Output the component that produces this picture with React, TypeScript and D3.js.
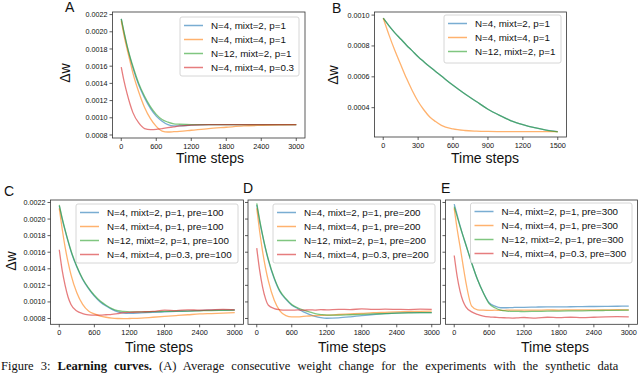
import React from "react";
import * as d3 from "d3";

// ---- data ----
const stepsA = [0, 50, 100, 150, 200, 300, 400, 500, 600, 700, 800, 900, 1000, 1200, 1500, 1800, 2100, 2400, 2700, 3000];
const aN4m2 = [0.00215, 0.00198, 0.00183, 0.0017, 0.00158, 0.00138, 0.00123, 0.00111, 0.00102, 0.00096, 0.00092, 0.000905, 0.000905, 0.000915, 0.00092, 0.00092, 0.00092, 0.00092, 0.00092, 0.00092];
const aN4m4 = [0.00213, 0.00195, 0.0018, 0.00166, 0.00152, 0.0013, 0.00112, 0.00099, 0.0009, 0.000845, 0.000835, 0.000838, 0.000842, 0.000855, 0.000875, 0.00089, 0.000905, 0.000912, 0.000917, 0.00092];
const aN12m2 = [0.00215, 0.00199, 0.00184, 0.00171, 0.0016, 0.0014, 0.00125, 0.00113, 0.00104, 0.00098, 0.00095, 0.00093, 0.000925, 0.00092, 0.00092, 0.00092, 0.00092, 0.00092, 0.00092, 0.00092];
const aN4m4p03 = [0.00159, 0.00142, 0.00128, 0.00116, 0.00106, 0.00094, 0.000875, 0.000862, 0.000865, 0.000875, 0.000885, 0.000895, 0.000905, 0.000915, 0.00092, 0.00092, 0.00092, 0.00092, 0.00092, 0.00092];

const stepsB = [0, 50, 100, 150, 200, 250, 300, 350, 400, 450, 500, 600, 700, 800, 900, 1000, 1100, 1200, 1300, 1400, 1500];
const bN4m2 = [0.00098, 0.00093, 0.000885, 0.000845, 0.000805, 0.000768, 0.00073, 0.000697, 0.000665, 0.000635, 0.000605, 0.000545, 0.00049, 0.00044, 0.00039, 0.00035, 0.000315, 0.00029, 0.00027, 0.000255, 0.000245];
const bN4m4 = [0.00098, 0.00087, 0.00077, 0.00068, 0.00059, 0.00051, 0.00044, 0.000385, 0.00034, 0.00031, 0.000285, 0.000262, 0.000252, 0.000248, 0.000246, 0.000245, 0.000245, 0.000245, 0.000245, 0.000245, 0.000245];
const bN12m2 = [0.00098, 0.00093, 0.000885, 0.000845, 0.000805, 0.000768, 0.00073, 0.000697, 0.000665, 0.000635, 0.000605, 0.000545, 0.00049, 0.00044, 0.00039, 0.00035, 0.000315, 0.00029, 0.00027, 0.000255, 0.000243];

const stepsLow = [0, 50, 100, 150, 200, 300, 400, 500, 600, 700, 800, 900, 1000, 1100, 1200, 1400, 1600, 1800, 2000, 2200, 2400, 2600, 2800, 3000];
const cN4m2 = [0.00216, 0.002, 0.00186, 0.00173, 0.00161, 0.00142, 0.00127, 0.00116, 0.00107, 0.001, 0.00095, 0.00091, 0.00088, 0.000865, 0.000862, 0.000868, 0.000875, 0.00088, 0.000885, 0.00089, 0.000895, 0.0009, 0.0009, 0.000905];
const cN4m4 = [0.00213, 0.00188, 0.00166, 0.00148, 0.00133, 0.00111, 0.00097, 0.00089, 0.000855, 0.00083, 0.000815, 0.000805, 0.0008, 0.000798, 0.0008, 0.000805, 0.000815, 0.000825, 0.000835, 0.000845, 0.000855, 0.00086, 0.000865, 0.00087];
const cN12m2 = [0.00217, 0.00201, 0.00187, 0.00174, 0.00162, 0.00143, 0.00128, 0.00117, 0.00108, 0.00101, 0.00096, 0.00092, 0.000895, 0.000885, 0.00088, 0.00088, 0.000882, 0.000885, 0.000888, 0.00089, 0.000893, 0.000896, 0.000898, 0.0009];
const cN4m4p03 = [0.00163, 0.00138, 0.0012, 0.00106, 0.00097, 0.00089, 0.00086, 0.000845, 0.00084, 0.00084, 0.000845, 0.00085, 0.00086, 0.00087, 0.000875, 0.00088, 0.000885, 0.0009, 0.000895, 0.000905, 0.0009, 0.000905, 0.00091, 0.000905];

const dN4m2 = [0.00217, 0.00197, 0.0018, 0.00164, 0.0015, 0.00128, 0.00112, 0.00103, 0.00096, 0.00092, 0.00088, 0.00085, 0.000825, 0.00081, 0.000803, 0.000808, 0.00082, 0.000835, 0.000848, 0.000858, 0.000866, 0.00087, 0.000872, 0.00087];
const dN4m4 = [0.00213, 0.00185, 0.00161, 0.00141, 0.00125, 0.00102, 0.00089, 0.000835, 0.00082, 0.00082, 0.000825, 0.00083, 0.000835, 0.000838, 0.00084, 0.000848, 0.000855, 0.000862, 0.00087, 0.000875, 0.00088, 0.000883, 0.000886, 0.000888];
const dN12m2 = [0.00219, 0.00199, 0.00181, 0.00165, 0.00151, 0.00129, 0.00113, 0.00104, 0.00097, 0.00093, 0.0009, 0.00088, 0.00086, 0.000848, 0.00084, 0.00084, 0.000845, 0.00085, 0.000855, 0.00086, 0.000865, 0.000868, 0.00087, 0.00087];
const dN4m4p03 = [0.00165, 0.00138, 0.00118, 0.00104, 0.00096, 0.00092, 0.000905, 0.0009, 0.0009, 0.000903, 0.0009, 0.000905, 0.000902, 0.000906, 0.000905, 0.00091, 0.000908, 0.000915, 0.00091, 0.000912, 0.00091, 0.000908, 0.000912, 0.00091];

const eN4m2 = [0.00218, 0.00205, 0.00192, 0.0018, 0.00169, 0.00147, 0.00127, 0.00111, 0.00099, 0.00095, 0.00093, 0.00093, 0.000932, 0.000935, 0.000935, 0.000938, 0.00094, 0.00094, 0.000942, 0.000944, 0.000945, 0.000946, 0.000948, 0.00095];
const eN4m4 = [0.00213, 0.00188, 0.00167, 0.00145, 0.00124, 0.00095, 0.000905, 0.0009, 0.000898, 0.0009, 0.000898, 0.0009, 0.000902, 0.0009, 0.000902, 0.0009, 0.000903, 0.000902, 0.000905, 0.000903, 0.000905, 0.000905, 0.000906, 0.000905];
const eN12m2 = [0.00215, 0.00203, 0.00191, 0.0018, 0.00169, 0.00147, 0.00127, 0.00111, 0.00098, 0.00093, 0.0009, 0.00089, 0.000885, 0.000885, 0.000884, 0.000886, 0.000888, 0.00089, 0.000892, 0.000893, 0.000895, 0.000897, 0.000898, 0.0009];
const eN4m4p03 = [0.00156, 0.00131, 0.00113, 0.00101, 0.00094, 0.00088, 0.00085, 0.00083, 0.00082, 0.000815, 0.00081, 0.000808, 0.000805, 0.000808, 0.000812, 0.000805, 0.000815, 0.00081, 0.000815, 0.00081, 0.000815, 0.00082, 0.000822, 0.00082];

const labelsTop = ["N=4, mixt=2, p=1", "N=4, mixt=4, p=1", "N=12, mixt=2, p=1", "N=4, mixt=4, p=0.3"];
const pres = ["100", "200", "300"];
const colors = ["#1f77b4", "#ff7f0e", "#2ca02c", "#d62728"];

const xTicksLong = [0, 600, 1200, 1800, 2400, 3000];
const xTicksShort = [0, 300, 600, 900, 1200, 1500];
const yTicksA = [0.0008, 0.001, 0.0012, 0.0014, 0.0016, 0.0018, 0.002, 0.0022];
const yTicksB = [0.0004, 0.0006, 0.0008, 0.001];

const FONT = "'Liberation Sans', Arial, Helvetica, sans-serif";
const fmt = d3.format(".4f");

type Series = { label: string; color: string; xs: number[]; ys: number[] };

type PanelProps = {
  frame: [number, number, number, number]; // left, right, top, bottom
  xDomain: [number, number];
  yDomain: [number, number];
  xTicks: number[];
  yTicks: number[];
  yLabels: boolean;
  series: Series[];
  legend: { x: number; y: number; w: number; h: number };
  letter: string;
  letterAt: [number, number];
  xLabelAt: [number, number];
  yLabelAt?: [number, number];
};

function Panel(p: PanelProps) {
  const [l, r, t, b] = p.frame;
  const x = d3.scaleLinear().domain(p.xDomain).range([l, r]);
  const y = d3.scaleLinear().domain(p.yDomain).range([b, t]);
  const line = d3.line().curve(d3.curveMonotoneX);
  const clipId = "clip-" + p.letter;
  return (
    <g>
      <defs>
        <clipPath id={clipId}>
          <rect x={l} y={t} width={r - l} height={b - t} />
        </clipPath>
      </defs>
      <g clipPath={`url(#${clipId})`}>
        {p.series.map((s) => {
          const pts = s.xs.map((v, i) => [x(v), y(s.ys[i])] as [number, number]);
          return <path key={s.label} d={line(pts) || ""} fill="none" stroke={s.color} strokeOpacity={0.6} strokeWidth={1.3} />;
        })}
      </g>
      <rect x={l} y={t} width={r - l} height={b - t} fill="none" stroke="#333" strokeWidth={0.8} />
      {p.xTicks.map((v) => (
        <g key={"x" + v}>
          <line x1={x(v)} x2={x(v)} y1={b} y2={b + 3} stroke="#333" strokeWidth={0.8} />
          <text x={x(v)} y={b + 11} textAnchor="middle" fontSize={7.3} fontFamily={FONT} fill="#111">
            {v}
          </text>
        </g>
      ))}
      {p.yTicks.map((v) => (
        <g key={"y" + v}>
          <line x1={l - 3} x2={l} y1={y(v)} y2={y(v)} stroke="#333" strokeWidth={0.8} />
          {p.yLabels && (
            <text x={l - 5} y={y(v)} dy="0.35em" textAnchor="end" fontSize={7.2} fontFamily={FONT} fill="#111">
              {fmt(v)}
            </text>
          )}
        </g>
      ))}
      <text x={p.xLabelAt[0]} y={p.xLabelAt[1]} textAnchor="middle" fontSize={14} fontFamily={FONT} fill="#111">
        Time steps
      </text>
      {p.yLabelAt && (
        <text
          transform={`translate(${p.yLabelAt[0]},${p.yLabelAt[1]}) rotate(-90)`}
          dy="0.35em"
          textAnchor="middle"
          fontSize={14}
          fontFamily={FONT}
          fill="#111"
        >
          Δw
        </text>
      )}
      <text x={p.letterAt[0]} y={p.letterAt[1]} fontSize={14} fontFamily={FONT} fill="#111">
        {p.letter}
      </text>
      <rect
        x={p.legend.x}
        y={p.legend.y}
        width={p.legend.w}
        height={p.legend.h}
        rx={2}
        fill="#fff"
        fillOpacity={0.85}
        stroke="#ccc"
        strokeWidth={0.8}
      />
      {p.series.map((s, i) => {
        const cy = p.legend.y + 8.5 + i * 14;
        return (
          <g key={"lg" + i}>
            <line x1={p.legend.x + 4} x2={p.legend.x + 23} y1={cy} y2={cy} stroke={s.color} strokeOpacity={0.6} strokeWidth={1.5} />
            <text x={p.legend.x + 31} y={cy} dy="0.35em" fontSize={9.8} fontFamily={FONT} fill="#111">
              {s.label}
            </text>
          </g>
        );
      })}
    </g>
  );
}

const mk = (xs: number[], ys: number[][], labels: string[]): Series[] =>
  ys.map((v, i) => ({ label: labels[i], color: colors[i], xs, ys: v }));

export default function App() {
  const lowLabels = (pre: string) => labelsTop.map((s) => `${s}, pre=${pre}`);
  const lowY: [number, number] = [0.00073, 0.00223];
  return (
    <svg width={640} height={373} style={{ position: "absolute", left: 0, top: 0, background: "#fff" }}>
      <Panel
        frame={[112.5, 305, 12, 138]}
        xDomain={[-150, 3150]}
        yDomain={[0.000765, 0.00223]}
        xTicks={xTicksLong}
        yTicks={yTicksA}
        yLabels
        series={mk(stepsA, [aN4m2, aN4m4, aN12m2, aN4m4p03], labelsTop)}
        legend={{ x: 180, y: 17, w: 119, h: 59 }}
        letter="A"
        letterAt={[65, 12]}
        xLabelAt={[210, 163]}
        yLabelAt={[65, 73]}
      />
      <Panel
        frame={[374.5, 566.5, 12, 137]}
        xDomain={[-75, 1575]}
        yDomain={[0.00021, 0.00102]}
        xTicks={xTicksShort}
        yTicks={yTicksB}
        yLabels
        series={mk(stepsB, [bN4m2, bN4m4, bN12m2], labelsTop.slice(0, 3))}
        legend={{ x: 444, y: 15, w: 117, h: 48 }}
        letter="B"
        letterAt={[332, 13]}
        xLabelAt={[485, 163]}
        yLabelAt={[333, 75]}
      />
      <Panel
        frame={[50.5, 243.5, 200, 324.3]}
        xDomain={[-150, 3150]}
        yDomain={lowY}
        xTicks={xTicksLong}
        yTicks={yTicksA}
        yLabels
        series={mk(stepsLow, [cN4m2, cN4m4, cN12m2, cN4m4p03], lowLabels(pres[0]))}
        legend={{ x: 76, y: 204, w: 162, h: 59 }}
        letter="C"
        letterAt={[4, 196]}
        xLabelAt={[159, 352]}
        yLabelAt={[11, 261]}
      />
      <Panel
        frame={[248, 440.5, 200, 324.3]}
        xDomain={[-150, 3150]}
        yDomain={lowY}
        xTicks={xTicksLong}
        yTicks={yTicksA}
        yLabels={false}
        series={mk(stepsLow, [dN4m2, dN4m4, dN12m2, dN4m4p03], lowLabels(pres[1]))}
        legend={{ x: 273, y: 204, w: 162, h: 59 }}
        letter="D"
        letterAt={[243, 193]}
        xLabelAt={[352, 352]}
      />
      <Panel
        frame={[445.5, 637.5, 200, 324.3]}
        xDomain={[-150, 3150]}
        yDomain={lowY}
        xTicks={xTicksLong}
        yTicks={yTicksA}
        yLabels={false}
        series={mk(stepsLow, [eN4m2, eN4m4, eN12m2, eN4m4p03], lowLabels(pres[2]))}
        legend={{ x: 470.5, y: 203, w: 161.5, h: 60 }}
        letter="E"
        letterAt={[441, 193]}
        xLabelAt={[555, 352]}
      />
      <text
        x={1}
        y={370}
        fontSize={12.5}
        fontFamily="'Liberation Serif', 'Times New Roman', serif"
        fill="#111"
        wordSpacing={4}
      >
        Figure 3: <tspan fontWeight="bold">Learning curves.</tspan> (A) Average consecutive weight change for the experiments with the synthetic data
      </text>
    </svg>
  );
}
